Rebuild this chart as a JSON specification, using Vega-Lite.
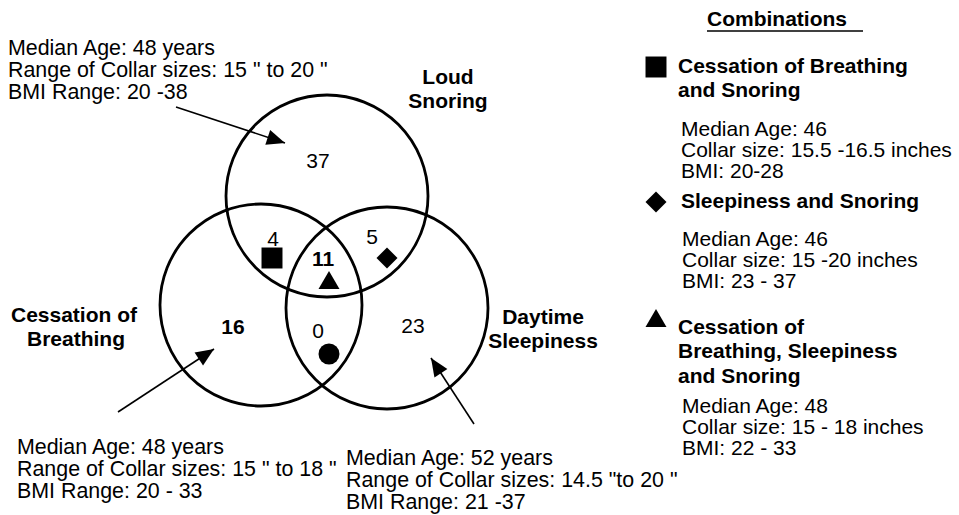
{
  "$schema": "https://vega.github.io/schema/vega-lite/v6.json",
  "width": 959,
  "height": 515,
  "padding": 0,
  "autosize": {"type": "none"},
  "background": "white",
  "config": {"view": {"stroke": null}, "text": {"font": "Liberation Sans", "fontSize": 21, "color": "black"}},
  "datasets": {
    "circles": [
      {"set": "Loud Snoring", "cx": 327, "cy": 196},
      {"set": "Cessation of Breathing", "cx": 261, "cy": 305},
      {"set": "Daytime Sleepiness", "cx": 387, "cy": 308}
    ],
    "markers": [
      {"combo": "Cessation of Breathing and Snoring", "x": 272, "y": 258},
      {"combo": "Sleepiness and Snoring", "x": 387, "y": 258},
      {"combo": "Cessation of Breathing, Sleepiness and Snoring", "x": 329, "y": 280},
      {"combo": "Cessation of Breathing and Sleepiness", "x": 329, "y": 354},
      {"combo": "Cessation of Breathing and Snoring", "x": 656, "y": 67},
      {"combo": "Sleepiness and Snoring", "x": 656, "y": 202},
      {"combo": "Cessation of Breathing, Sleepiness and Snoring", "x": 656, "y": 318}
    ],
    "segments": [
      {"kind": "arrow", "x": 176, "y": 107, "x2": 285, "y2": 143},
      {"kind": "arrow", "x": 118, "y": 412, "x2": 214, "y2": 349},
      {"kind": "arrow", "x": 474, "y": 424, "x2": 431, "y2": 358},
      {"kind": "underline", "x": 707, "y": 31, "x2": 863, "y2": 31}
    ],
    "labels": [
      {"group": "noteLeft", "text": "Median Age: 48 years", "x": 8, "y": 49},
      {"group": "noteLeft", "text": "Range of Collar sizes: 15 \" to 20 \"", "x": 8, "y": 71},
      {"group": "noteLeft", "text": "BMI Range: 20 -38", "x": 8, "y": 93},
      {"group": "noteLeft", "text": "Median Age: 48 years", "x": 17, "y": 448},
      {"group": "noteLeft", "text": "Range of Collar sizes: 15 \" to 18 \"", "x": 17, "y": 470},
      {"group": "noteLeft", "text": "BMI Range: 20 - 33", "x": 17, "y": 492},
      {"group": "noteLeft", "text": "Median Age: 52 years", "x": 346, "y": 459},
      {"group": "noteLeft", "text": "Range of Collar sizes: 14.5 \"to 20 \"", "x": 346, "y": 481},
      {"group": "noteLeft", "text": "BMI Range: 21 -37", "x": 346, "y": 503},
      {"group": "legendNote", "text": "Median Age: 46", "x": 681, "y": 130},
      {"group": "legendNote", "text": "Collar size: 15.5 -16.5 inches", "x": 681, "y": 151},
      {"group": "legendNote", "text": "BMI: 20-28", "x": 681, "y": 172},
      {"group": "legendNote", "text": "Median Age: 46", "x": 682, "y": 240},
      {"group": "legendNote", "text": "Collar size: 15 -20 inches", "x": 682, "y": 261},
      {"group": "legendNote", "text": "BMI: 23 - 37", "x": 682, "y": 282},
      {"group": "legendNote", "text": "Median Age: 48", "x": 682, "y": 407},
      {"group": "legendNote", "text": "Collar size: 15 - 18 inches", "x": 682, "y": 428},
      {"group": "legendNote", "text": "BMI: 22 - 33", "x": 682, "y": 449},
      {"group": "boldLeft", "text": "Combinations", "x": 707, "y": 20},
      {"group": "boldLeft", "text": "Cessation of Breathing", "x": 678, "y": 67},
      {"group": "boldLeft", "text": "and Snoring", "x": 678, "y": 91},
      {"group": "boldLeft", "text": "Sleepiness and Snoring", "x": 681, "y": 202},
      {"group": "boldLeft", "text": "Cessation of", "x": 678, "y": 328},
      {"group": "boldLeft", "text": "Breathing, Sleepiness", "x": 678, "y": 352},
      {"group": "boldLeft", "text": "and Snoring", "x": 678, "y": 377},
      {"group": "boldCenter", "text": "Loud", "x": 448, "y": 78},
      {"group": "boldCenter", "text": "Snoring", "x": 448, "y": 102},
      {"group": "boldCenter", "text": "Cessation of", "x": 74, "y": 316},
      {"group": "boldCenter", "text": "Breathing", "x": 76, "y": 340},
      {"group": "boldCenter", "text": "Daytime", "x": 543, "y": 318},
      {"group": "boldCenter", "text": "Sleepiness", "x": 543, "y": 342},
      {"group": "boldCenter", "text": "16", "x": 233, "y": 328},
      {"group": "boldCenter", "text": "11", "x": 323, "y": 260},
      {"group": "countCenter", "text": "37", "x": 318, "y": 162},
      {"group": "countCenter", "text": "4", "x": 273, "y": 240},
      {"group": "countCenter", "text": "5", "x": 372, "y": 238},
      {"group": "countCenter", "text": "0", "x": 318, "y": 332},
      {"group": "countCenter", "text": "23", "x": 413, "y": 327}
    ]
  },
  "layer": [
    {
      "data": {"name": "circles"},
      "mark": {"type": "point", "shape": "circle", "filled": false, "stroke": "black", "strokeWidth": 2.8, "size": 40804, "opacity": 1},
      "encoding": {
        "x": {"field": "cx", "type": "quantitative", "scale": {"domain": [0, 959], "range": [0, 959], "nice": false, "zero": false}, "axis": null},
        "y": {"field": "cy", "type": "quantitative", "scale": {"domain": [0, 515], "range": [0, 515], "nice": false, "zero": false}, "axis": null}
      }
    },
    {
      "data": {"name": "segments"},
      "mark": {"type": "rule", "color": "black", "strokeWidth": 1.6},
      "encoding": {
        "x": {"field": "x", "type": "quantitative"},
        "y": {"field": "y", "type": "quantitative"},
        "x2": {"field": "x2"},
        "y2": {"field": "y2"}
      }
    },
    {
      "data": {"name": "segments"},
      "transform": [
        {"filter": "datum.kind === 'arrow'"},
        {"calculate": "atan2(datum.x2 - datum.x, -(datum.y2 - datum.y)) * 180 / PI", "as": "ang"}
      ],
      "mark": {"type": "point", "shape": "M0,0L-0.85,2L0.85,2Z", "filled": true, "color": "black", "size": 330, "opacity": 1},
      "encoding": {
        "x": {"field": "x2", "type": "quantitative"},
        "y": {"field": "y2", "type": "quantitative"},
        "angle": {"field": "ang", "type": "quantitative", "scale": null}
      }
    },
    {
      "data": {"name": "markers"},
      "mark": {"type": "point", "filled": true, "color": "black", "size": 440, "opacity": 1},
      "encoding": {
        "x": {"field": "x", "type": "quantitative"},
        "y": {"field": "y", "type": "quantitative"},
        "shape": {
          "field": "combo", "type": "nominal", "legend": null,
          "scale": {
            "domain": ["Cessation of Breathing and Snoring", "Sleepiness and Snoring", "Cessation of Breathing, Sleepiness and Snoring", "Cessation of Breathing and Sleepiness"],
            "range": ["square", "diamond", "triangle-up", "circle"]
          }
        }
      }
    },
    {
      "data": {"name": "labels"},
      "transform": [{"filter": "datum.group === 'noteLeft'"}],
      "mark": {"type": "text", "align": "left", "baseline": "middle", "fontSize": 21.4},
      "encoding": {
        "x": {"field": "x", "type": "quantitative"},
        "y": {"field": "y", "type": "quantitative"},
        "text": {"field": "text"}
      }
    },
    {
      "data": {"name": "labels"},
      "transform": [{"filter": "datum.group === 'legendNote'"}],
      "mark": {"type": "text", "align": "left", "baseline": "middle", "fontSize": 21},
      "encoding": {
        "x": {"field": "x", "type": "quantitative"},
        "y": {"field": "y", "type": "quantitative"},
        "text": {"field": "text"}
      }
    },
    {
      "data": {"name": "labels"},
      "transform": [{"filter": "datum.group === 'boldLeft'"}],
      "mark": {"type": "text", "align": "left", "baseline": "middle", "fontWeight": "bold"},
      "encoding": {
        "x": {"field": "x", "type": "quantitative"},
        "y": {"field": "y", "type": "quantitative"},
        "text": {"field": "text"}
      }
    },
    {
      "data": {"name": "labels"},
      "transform": [{"filter": "datum.group === 'boldCenter'"}],
      "mark": {"type": "text", "align": "center", "baseline": "middle", "fontWeight": "bold"},
      "encoding": {
        "x": {"field": "x", "type": "quantitative"},
        "y": {"field": "y", "type": "quantitative"},
        "text": {"field": "text"}
      }
    },
    {
      "data": {"name": "labels"},
      "transform": [{"filter": "datum.group === 'countCenter'"}],
      "mark": {"type": "text", "align": "center", "baseline": "middle"},
      "encoding": {
        "x": {"field": "x", "type": "quantitative"},
        "y": {"field": "y", "type": "quantitative"},
        "text": {"field": "text"}
      }
    }
  ]
}
